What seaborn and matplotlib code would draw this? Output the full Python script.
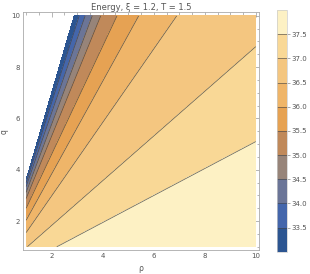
import numpy as np
import matplotlib
matplotlib.use("Agg")
import matplotlib.pyplot as plt
from matplotlib.ticker import MultipleLocator
import seaborn as sns

sns.set_style("white")
plt.rcParams['font.family'] = ['DejaVu Sans']

# contour levels and where each contour line meets the plot frame (rho, q)
levels = [33.5, 34.0, 34.5, 35.0, 35.5, 36.0, 36.5, 37.0, 37.5]
line_rho0 = [1.0, 1.0, 1.0, 1.0, 1.0, 1.0, 1.0, 1.05, 2.2]
line_q0 = [3.5, 3.35, 3.12, 2.88, 2.5, 2.03, 1.55, 1.0, 1.0]
line_rho1 = [3.08, 3.31, 3.59, 3.92, 4.56, 5.41, 6.9, 10.0, 10.0]
line_q1 = [10.0, 10.0, 10.0, 10.0, 10.0, 10.0, 10.0, 8.8, 5.1]

# range of the data (colorbar ends) and the border of the defined region
e_min, e_max = 33.17, 38.0
edge_rho = [1.0, 2.88]
edge_q = [3.6, 10.0]

# band colours, lowest band first
band_colors = ['#2c5591', '#4466ab', '#6b7597', '#978479', '#c0895a',
               '#e6a253', '#efb569', '#f4c680', '#f9d896', '#fdf1c4']
pal = sns.color_palette(band_colors)


def line_q(r, r0, q0, r1, q1):
    return q0 + (r - r0) * (q1 - q0) / (r1 - r0)


# build the energy field from the contour lines
rho = np.linspace(1, 10, 451)
qq = np.linspace(1, 10, 451)
R, Q = np.meshgrid(rho, qq)
E = np.empty_like(R)
for j, r in enumerate(rho):
    qe = line_q(r, edge_rho[0], edge_q[0], edge_rho[1], edge_q[1])
    qs = [line_q(r, a, b, c, d) for a, b, c, d in
          zip(line_rho0, line_q0, line_rho1, line_q1)]
    # beyond the edge the field keeps falling, so it stays unfilled (white)
    xp = [qs[-1] - 8] + qs[::-1] + [qe, qe + 1]
    fp = [e_max] + levels[::-1] + [e_min, e_min - 1]
    E[:, j] = np.interp(qq, xp, fp, right=e_min - 1)

fig = plt.figure(figsize=(3.1, 2.74), dpi=100)
ax = fig.add_axes([0.0732, 0.0876, 0.7632, 0.8668])
cax = fig.add_axes([0.8926, 0.0814, 0.0323, 0.882])

all_levels = [e_min] + levels + [e_max]
cf = ax.contourf(R, Q, E, levels=all_levels, colors=pal)
cs = ax.contour(R, Q, E, levels=levels, colors='#444444', linewidths=0.5, alpha=0.85)

ax.set_xlim(0.865, 10.135)
ax.set_ylim(0.87, 10.13)
ax.set_xticks([2, 4, 6, 8, 10])
ax.set_yticks([2, 4, 6, 8, 10])
ax.xaxis.set_minor_locator(MultipleLocator(0.5))
ax.yaxis.set_minor_locator(MultipleLocator(0.5))
ax.tick_params(which='both', direction='in', top=True, right=True,
               color='#999999', width=0.5)
ax.tick_params(which='major', length=3.5, labelsize=5, labelcolor='#555555', pad=2)
ax.tick_params(which='minor', length=1.8)
for s in ax.spines.values():
    s.set_color('#aaaaaa')
    s.set_linewidth(0.6)

ax.set_xlabel('ρ', fontsize=5.5, color='#555555', labelpad=4)
ax.set_ylabel('q', fontsize=5.5, color='#555555', labelpad=2)
ax.set_title('Energy, ξ = 1.2, T = 1.5', fontsize=6, color='#555555', pad=1.5)

cbar = fig.colorbar(cf, cax=cax, ticks=levels)
cbar.add_lines(cs)
cbar.ax.set_yticklabels([f'{v:.1f}' for v in levels])
cbar.ax.tick_params(direction='out', length=2, width=0.5, color='#888888',
                    labelsize=5, labelcolor='#555555', pad=1.5)
cbar.outline.set_edgecolor('#cccccc')
cbar.outline.set_linewidth(0.5)

fig.savefig('out.png', dpi=100)
